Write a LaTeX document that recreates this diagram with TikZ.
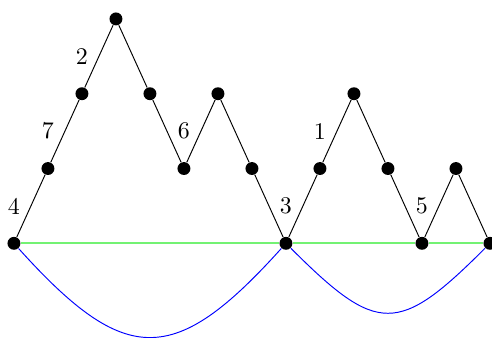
\documentclass[tikz,border=0pt]{standalone}
\usepackage{tikz}
\usetikzlibrary{arrows.meta,positioning,calc}
\usepackage{xcolor}
\definecolor{archblue}{rgb}{0,0,1}
\definecolor{groundgreen}{rgb}{0.45,0.95,0.45}

\begin{document}
\begin{tikzpicture}[x=0.5cm, y=1.1cm, dot/.style={circle,fill=black,inner sep=0pt,minimum size=0.19cm}]
\useasboundingbox (-0.41,-1.253) rectangle (14.06,3.253);
% path vertices
\foreach \i/\h in {0/0,1/1,2/2,3/3,4/2,5/1,6/2,7/1,8/0,9/1,10/2,11/1,12/0,13/1,14/0}
  \node[dot] (p\i) at (\i,\h) {};
% ground line and arcs
\foreach \a/\b in {0/8,8/12,12/14}
  \draw[color=groundgreen,line width=0.7pt] (p\a)--(p\b);
\draw[archblue] (p0) to[out=-48,in=-132,looseness=1.56] (p8);
\draw[archblue] (p8) to[out=-45,in=-135,looseness=1.62] (p14);
% steps
\foreach \a/\b in {0/1,1/2,2/3,3/4,4/5,5/6,6/7,7/8,8/9,9/10,10/11,11/12,12/13,13/14}
  \draw (p\a)--(p\b);
% labels on up steps
\foreach \i/\h/\t in {0/0/4,1/1/7,2/2/2,5/1/6,8/0/3,9/1/1,12/0/5}
  \node (l\t) at (\i,\h+0.5) {\t};
\end{tikzpicture}
\end{document}
